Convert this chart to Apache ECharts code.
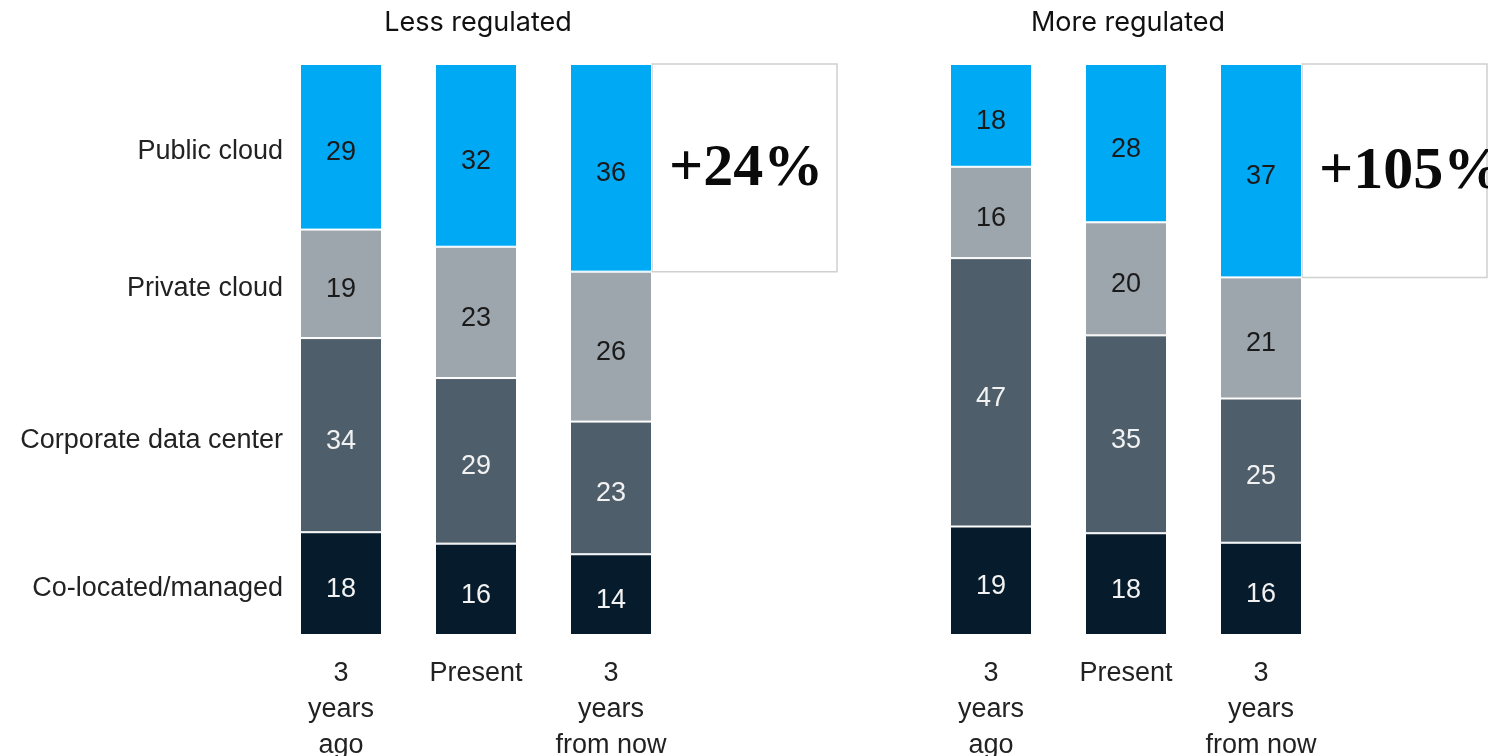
<!DOCTYPE html>
<html>
<head>
<meta charset="utf-8">
<script src="https://cdn.jsdelivr.net/npm/echarts@6/dist/echarts.min.js"></script>
<style>
  html, body { margin: 0; padding: 0; background: #fff; }
  #chart { width: 1488px; height: 756px; }
</style>
</head>
<body>
<div id="chart"></div>
<script>
// Panels and periods
const groupTitles = ['Less regulated', 'More regulated'];
const periods = ['3\nyears\nago', 'Present', '3\nyears\nfrom now'];
// Segments, bottom to top
const segmentNames = ['Co-located/managed', 'Corporate data center', 'Private cloud', 'Public cloud'];

// Less regulated, % by period
const lessColocated = [18, 16, 14];
const lessCorporate = [34, 29, 23];
const lessPrivate   = [19, 23, 26];
const lessPublic    = [29, 32, 36];

// More regulated, % by period
const moreColocated = [19, 18, 16];
const moreCorporate = [47, 35, 25];
const morePrivate   = [16, 20, 21];
const morePublic    = [18, 28, 37];

// Growth of public cloud share, past to future
const publicGrowth = ['+24%', '+105%'];

const segColors = ['#061c2c', '#4e5e6a', '#9da5ad', '#00a9f4'];
const segTextColors = ['#f2f2f2', '#f2f2f2', '#1a1a1a', '#1a1a1a'];
const BAR_W = 82;
const LABEL_FONT = 'Liberation Sans';

const panels = [
  [lessColocated, lessCorporate, lessPrivate, lessPublic],
  [moreColocated, moreCorporate, morePrivate, morePublic]
];

// each column is scaled to fill 100%
function normalized(panel) {
  const totals = periods.map((_, i) => panel.reduce((s, arr) => s + arr[i], 0));
  return panel.map(arr => arr.map((v, i) => ({ value: v / totals[i] * 100, raw: v })));
}

const series = [];
panels.forEach((panel, g) => {
  const norm = normalized(panel);
  norm.forEach((data, s) => {
    series.push({
      type: 'bar',
      name: segmentNames[s],
      xAxisIndex: g, yAxisIndex: g,
      stack: 'share' + g,
      barWidth: BAR_W,
      barGap: '-100%',
      data: data,
      itemStyle: { color: segColors[s], borderColor: '#ffffff', borderWidth: 1 },
      label: {
        show: true, position: 'inside', offset: [0, 6],
        formatter: p => String(p.data.raw),
        color: segTextColors[s],
        fontFamily: LABEL_FONT, fontSize: 27
      },
      silent: true
    });
  });
  // segment names beside the first column of the left panel
  if (g === 0) {
    norm.forEach((data, s) => {
      series.push({
        type: 'bar',
        name: 'names-' + s,
        xAxisIndex: 0, yAxisIndex: 0,
        stack: 'names',
        barWidth: BAR_W,
        barGap: '-100%',
        data: data.map((d, i) => i === 0 ? d.value : '-'),
        itemStyle: { color: 'rgba(0,0,0,0)' },
        label: {
          show: true, position: 'left', distance: 17, offset: [0, 5],
          formatter: segmentNames[s],
          color: '#222', fontFamily: LABEL_FONT, fontSize: 27
        },
        silent: true
      });
    });
  }
  // callout box beside the public-cloud segment of the future column
  const last = periods.length - 1;
  const pubTop = 100;
  const pubBottom = 100 - norm[3][last].value;
  series.push({
    type: 'custom',
    xAxisIndex: g, yAxisIndex: g,
    clip: false,
    silent: true,
    data: [[last, pubBottom, pubTop]],
    renderItem: (params, api) => {
      const top = api.coord([api.value(0), api.value(2)]);
      const bot = api.coord([api.value(0), api.value(1)]);
      const x0 = top[0] + BAR_W / 2;
      const w = 185;
      return {
        type: 'group',
        children: [
          { type: 'rect', shape: { x: x0, y: top[1], width: w, height: bot[1] - top[1] },
            style: { fill: '#fff', stroke: '#d0d0d0', lineWidth: 1.5 } },
          { type: 'text', x: x0 + 17, y: (top[1] + bot[1]) / 2 + 2,
            style: { text: publicGrowth[g], fill: '#0a0a0a', font: 'bold 60px "Liberation Serif"',
                     verticalAlign: 'middle', align: 'left' } }
        ]
      };
    }
  });
});

const grids = [
  { left: 273.5, width: 405, top: 64, height: 571, outerBoundsMode: 'none', containLabel: false },
  { left: 923.5, width: 405, top: 64, height: 571, outerBoundsMode: 'none', containLabel: false }
];

const option = {
  animation: false,
  backgroundColor: '#ffffff',
  title: groupTitles.map((t, g) => ({
    text: t,
    left: grids[g].left + grids[g].width / 2 - 3,
    top: 4,
    textAlign: 'center',
    textStyle: { fontFamily: 'Inter', fontWeight: 'normal', fontSize: 27, color: '#111' }
  })),
  grid: grids,
  xAxis: grids.map((_, g) => ({
    type: 'category', gridIndex: g, data: periods,
    axisLine: { show: false }, axisTick: { show: false },
    axisLabel: { color: '#222', fontFamily: LABEL_FONT, fontSize: 27, lineHeight: 36, margin: 21, interval: 0 }
  })),
  yAxis: grids.map((_, g) => ({
    type: 'value', gridIndex: g, min: 0, max: 100,
    show: false, splitLine: { show: false }
  })),
  series: series
};

const chart = echarts.init(document.getElementById('chart'), null, { renderer: 'canvas' });
chart.setOption(option);
</script>
</body>
</html>
